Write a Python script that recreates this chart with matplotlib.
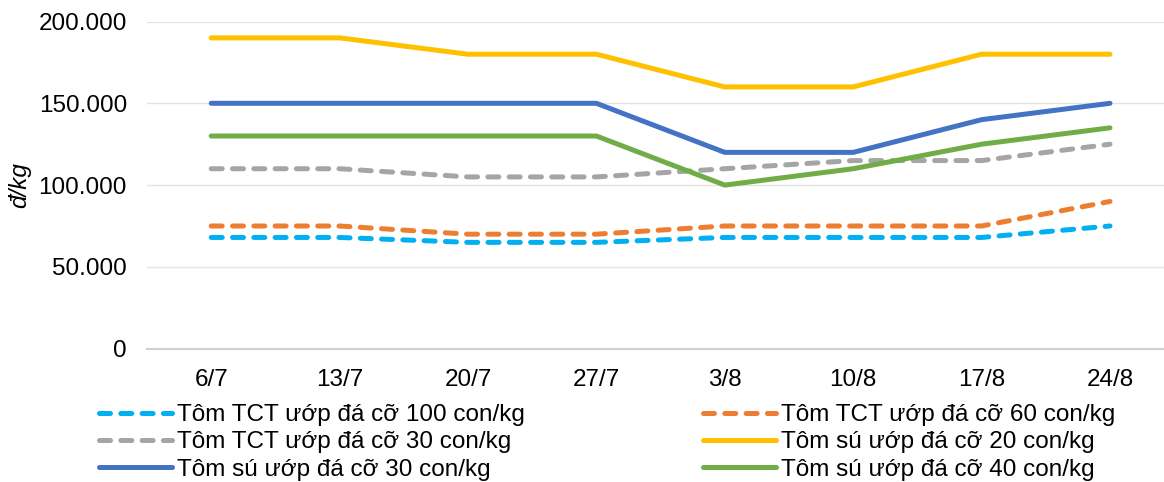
import matplotlib
matplotlib.use("Agg")
import matplotlib.pyplot as plt
from matplotlib.ticker import FuncFormatter, FixedLocator

plt.rcParams['font.family'] = ['Liberation Sans', 'DejaVu Sans']

categories = ["6/7", "13/7", "20/7", "27/7", "3/8", "10/8", "17/8", "24/8"]

tct_100 = [68000, 68000, 65000, 65000, 68000, 68000, 68000, 75000]
tct_60 = [75000, 75000, 70000, 70000, 75000, 75000, 75000, 90000]
tct_30 = [110000, 110000, 105000, 105000, 110000, 115000, 115000, 125000]
su_20 = [190000, 190000, 180000, 180000, 160000, 160000, 180000, 180000]
su_30 = [150000, 150000, 150000, 150000, 120000, 120000, 140000, 150000]
su_40 = [130000, 130000, 130000, 130000, 100000, 110000, 125000, 135000]

series_labels = [
    "Tôm TCT ướp đá cỡ 100 con/kg",
    "Tôm TCT ướp đá cỡ 60 con/kg",
    "Tôm TCT ướp đá cỡ 30 con/kg",
    "Tôm sú ướp đá cỡ 20 con/kg",
    "Tôm sú ướp đá cỡ 30 con/kg",
    "Tôm sú ướp đá cỡ 40 con/kg",
]
yticks = [0, 50000, 100000, 150000, 200000]
ylabel = "đ/kg"

colors = ["#00B0F0", "#ED7D31", "#A5A5A5", "#FFC000", "#4472C4", "#70AD47"]
dashed = [True, True, True, False, False, False]
series = [tct_100, tct_60, tct_30, su_20, su_30, su_40]

fig = plt.figure(figsize=(11.64, 4.82), dpi=100)
ax = fig.add_axes([147 / 1164, 1 - 348.7 / 482, 1 - 147 / 1164, (348.7 - 21.5) / 482])

x = list(range(len(categories)))
lw = 3.6
handles = {}
for vals, lab, col, d in zip(series, series_labels, colors, dashed):
    if d:
        ln, = ax.plot(x, vals, color=col, lw=lw, linestyle=(0, (2.2, 2.06)),
                      dash_capstyle='round', solid_capstyle='round', label=lab)
    else:
        ln, = ax.plot(x, vals, color=col, lw=lw, solid_capstyle='round', label=lab)
    handles[lab] = ln

ax.set_xlim(-0.5, (1164 - 147) / 128.4 - 0.5)
ax.set_ylim(0, 200000)
ax.yaxis.set_major_locator(FixedLocator(yticks))
ax.yaxis.set_major_formatter(FuncFormatter(lambda v, p: f"{int(v):,}".replace(",", ".")))
ax.set_xticks(x)
ax.set_xticklabels(categories)
ax.tick_params(axis='both', length=0, labelsize=17.5, colors='black')
ax.tick_params(axis='y', pad=14.4)
ax.tick_params(axis='x', pad=14.5)

ax.grid(axis='y', color='#E4E4E4', lw=1)
ax.set_axisbelow(True)
for s in ['top', 'right', 'left']:
    ax.spines[s].set_visible(False)
ax.spines['bottom'].set_color('#D0D0D0')
ax.spines['bottom'].set_linewidth(1.5)

fig.text(20 / 1164, 1 - 185 / 482, ylabel, rotation=90, ha='center', va='center',
         fontsize=17.5, style='italic')

order = [0, 2, 4, 1, 3, 5]
leg = fig.legend([handles[series_labels[i]] for i in order],
                 [series_labels[i] for i in order],
                 loc='upper left', bbox_to_anchor=(99 / 1164, 1 - 404 / 482),
                 ncol=2, frameon=False, fontsize=17.5, borderpad=0, borderaxespad=0,
                 handlelength=3.0, handletextpad=0.2, columnspacing=7.35,
                 labelspacing=0.22)

fig.savefig("out.png", dpi=100)
